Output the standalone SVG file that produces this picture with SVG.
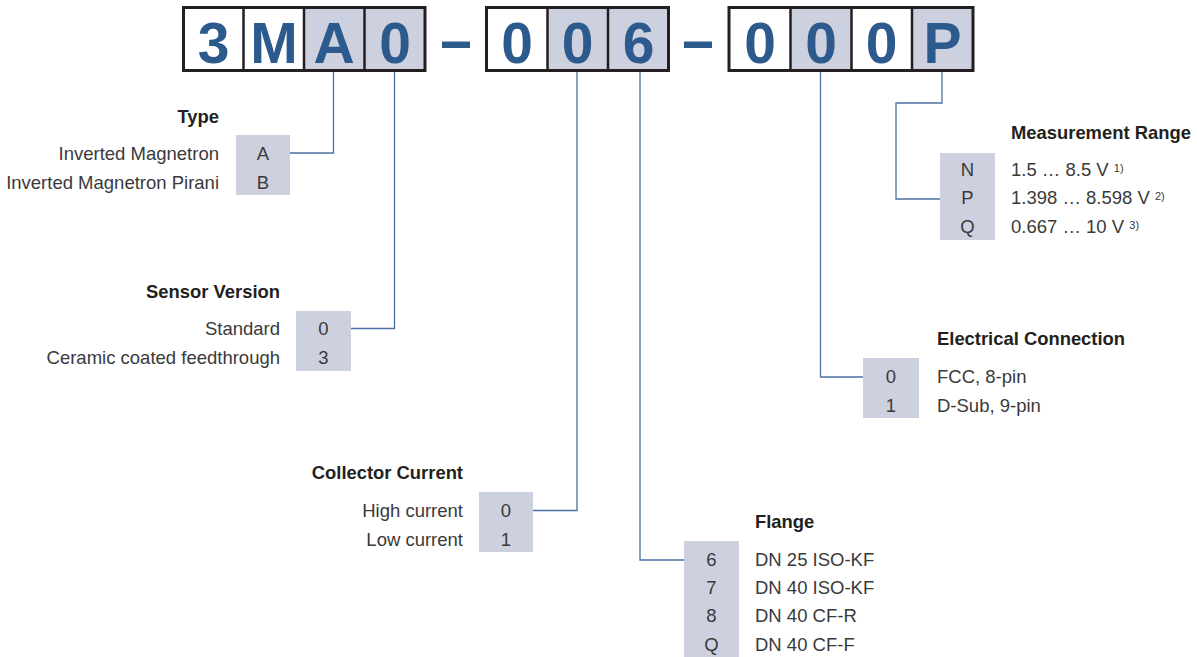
<svg xmlns="http://www.w3.org/2000/svg" width="1197" height="657" viewBox="0 0 1197 657">
<style>
.code{font-family:"Liberation Sans",Arial,sans-serif;font-weight:bold;font-size:57px;fill:#2c5a8c;text-anchor:middle}
.frame{fill:none;stroke:#231f20;stroke-width:3}
.div{stroke:#231f20;stroke-width:2.5}
.sh{fill:#cdd0de}
.wh{fill:#ffffff}
.dash{fill:#2c5a8c}
.conn{fill:none;stroke:#4b70a2;stroke-width:1.3}
.box{fill:#cdd0de}
.t{font-family:"Liberation Sans",Arial,sans-serif;font-weight:bold;font-size:18.4px;fill:#231f20}
.l{font-family:"Liberation Sans",Arial,sans-serif;font-size:18.5px;fill:#3a3a3a}
.c{text-anchor:middle}
.r{text-anchor:end}
.sup{font-size:11px}
</style>
<rect width="1197" height="657" fill="#ffffff"/>
<g id="code">
  <g id="code-group1">
    <rect class="wh" x="183.5" y="7.5" width="121" height="63"/>
    <rect class="sh" x="304" y="7.5" width="121" height="63"/>
    <line class="div" x1="243.5" y1="7.5" x2="243.5" y2="70.5"/>
    <line class="div" x1="304" y1="7.5" x2="304" y2="70.5"/>
    <line class="div" x1="364.5" y1="7.5" x2="364.5" y2="70.5"/>
    <rect class="frame" x="183.5" y="7.5" width="241.5" height="63"/>
    <text class="code" x="213.5" y="63">3</text>
    <text class="code" x="274" y="63">M</text>
    <text class="code" x="334" y="63">A</text>
    <text class="code" x="395" y="63">0</text>
  </g>
  <rect id="dash1" class="dash" x="442" y="41.5" width="28" height="6.5"/>
  <g id="code-group2">
    <rect class="wh" x="486.5" y="7.5" width="61" height="63"/>
    <rect class="sh" x="547.5" y="7.5" width="121" height="63"/>
    <line class="div" x1="547.5" y1="7.5" x2="547.5" y2="70.5"/>
    <line class="div" x1="608" y1="7.5" x2="608" y2="70.5"/>
    <rect class="frame" x="486.5" y="7.5" width="182" height="63"/>
    <text class="code" x="517" y="63">0</text>
    <text class="code" x="577.5" y="63">0</text>
    <text class="code" x="638.5" y="63">6</text>
  </g>
  <rect id="dash2" class="dash" x="684" y="41.5" width="28" height="6.5"/>
  <g id="code-group3">
    <rect class="wh" x="729" y="7.5" width="244" height="63"/>
    <rect class="sh" x="790.5" y="7.5" width="61" height="63"/>
    <rect class="sh" x="912" y="7.5" width="61" height="63"/>
    <line class="div" x1="790.5" y1="7.5" x2="790.5" y2="70.5"/>
    <line class="div" x1="851.5" y1="7.5" x2="851.5" y2="70.5"/>
    <line class="div" x1="912" y1="7.5" x2="912" y2="70.5"/>
    <rect class="frame" x="729" y="7.5" width="244" height="63"/>
    <text class="code" x="760" y="63">0</text>
    <text class="code" x="821" y="63">0</text>
    <text class="code" x="881.5" y="63">0</text>
    <text class="code" x="942.5" y="63">P</text>
  </g>
</g>
<g id="connectors">
  <path class="conn" d="M333.5 72 V153 H290"/>
  <path class="conn" d="M394.5 72 V328.5 H351"/>
  <path class="conn" d="M577 72 V510.5 H533"/>
  <path class="conn" d="M640 72 V560 H684"/>
  <path class="conn" d="M820.5 72 V377 H863"/>
  <path class="conn" d="M942 72 V103 H896 V199 H940"/>
</g>
<g id="type">
  <rect class="box" x="236" y="135" width="54" height="60"/>
  <text class="t r" x="219" y="122.5">Type</text>
  <text class="l r" x="219" y="160">Inverted Magnetron</text>
  <text class="l r" x="219" y="188.5">Inverted Magnetron Pirani</text>
  <text class="l c" x="263" y="160">A</text>
  <text class="l c" x="263" y="188.5">B</text>
</g>
<g id="sensor-version">
  <rect class="box" x="296" y="311" width="55" height="60"/>
  <text class="t r" x="280" y="297.5">Sensor Version</text>
  <text class="l r" x="280" y="335">Standard</text>
  <text class="l r" x="280" y="363.5">Ceramic coated feedthrough</text>
  <text class="l c" x="323.5" y="335">0</text>
  <text class="l c" x="323.5" y="363.5">3</text>
</g>
<g id="collector-current">
  <rect class="box" x="479" y="492" width="54" height="60"/>
  <text class="t r" x="463" y="478.5">Collector Current</text>
  <text class="l r" x="463" y="517">High current</text>
  <text class="l r" x="463" y="545.5">Low current</text>
  <text class="l c" x="506" y="517">0</text>
  <text class="l c" x="506" y="545.5">1</text>
</g>
<g id="flange">
  <rect class="box" x="684" y="541" width="55" height="116"/>
  <text class="t" x="755" y="527.5">Flange</text>
  <text class="l" x="755" y="566">DN 25 ISO-KF</text>
  <text class="l" x="755" y="594">DN 40 ISO-KF</text>
  <text class="l" x="755" y="622">DN 40 CF-R</text>
  <text class="l" x="755" y="650.5">DN 40 CF-F</text>
  <text class="l c" x="711.5" y="566">6</text>
  <text class="l c" x="711.5" y="594">7</text>
  <text class="l c" x="711.5" y="622">8</text>
  <text class="l c" x="711.5" y="650.5">Q</text>
</g>
<g id="electrical-connection">
  <rect class="box" x="863" y="358" width="56" height="60"/>
  <text class="t" x="937" y="344.5">Electrical Connection</text>
  <text class="l" x="937" y="383">FCC, 8-pin</text>
  <text class="l" x="937" y="411.5">D-Sub, 9-pin</text>
  <text class="l c" x="891" y="383">0</text>
  <text class="l c" x="891" y="411.5">1</text>
</g>
<g id="measurement-range">
  <rect class="box" x="940" y="153" width="55" height="87"/>
  <text class="t" x="1011" y="138.5">Measurement Range</text>
  <text class="l" x="1011" y="175.5">1.5 … 8.5 V <tspan class="sup" dy="-4">1)</tspan></text>
  <text class="l" x="1011" y="204">1.398 … 8.598 V <tspan class="sup" dy="-4">2)</tspan></text>
  <text class="l" x="1011" y="232.5">0.667 … 10 V <tspan class="sup" dy="-4">3)</tspan></text>
  <text class="l c" x="967.5" y="175.5">N</text>
  <text class="l c" x="967.5" y="204">P</text>
  <text class="l c" x="967.5" y="232.5">Q</text>
</g>
</svg>
